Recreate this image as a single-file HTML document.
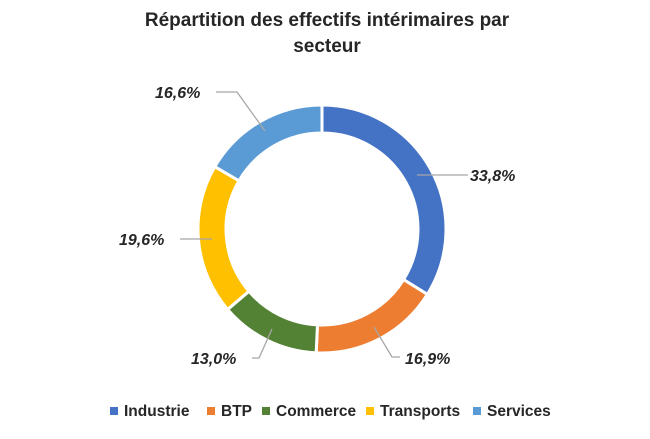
<!DOCTYPE html>
<html><head><meta charset="utf-8"><style>
body{margin:0;background:#fff;width:650px;height:434px;overflow:hidden;font-family:"Liberation Sans",sans-serif}
</style></head><body>
<svg id="s" width="650" height="434" viewBox="0 0 650 434">
<text x="327" y="26" text-anchor="middle" font-size="19" font-weight="bold" fill="#262626">Répartition des effectifs intérimaires par</text>
<text x="327" y="52" text-anchor="middle" font-size="19" font-weight="bold" fill="#262626">secteur</text>
<g id="ring"></g>
<g stroke="#a6a6a6" stroke-width="1.3" fill="none">
<polyline points="216,92 237,92 265,131"/>
<polyline points="417,175 468,175"/>
<polyline points="180,239 212,239"/>
<polyline points="252,358 259,358 272,329"/>
<polyline points="374,327 392,357 400,357"/>
</g>
<g font-size="16" font-weight="bold" font-style="italic" fill="#262626">
<text x="155" y="98">16,6%</text>
<text x="470" y="181">33,8%</text>
<text x="119" y="245">19,6%</text>
<text x="191" y="364">13,0%</text>
<text x="405" y="364">16,9%</text>
</g>
<g font-size="15.5" font-weight="bold" fill="#262626">
<rect x="110" y="407" width="8" height="8" fill="#4472c4"/><text x="124" y="416">Industrie</text>
<rect x="207" y="407" width="8" height="8" fill="#ed7d31"/><text x="221" y="416">BTP</text>
<rect x="262" y="407" width="8" height="8" fill="#548235"/><text x="276" y="416">Commerce</text>
<rect x="366" y="407" width="8" height="8" fill="#ffc000"/><text x="380" y="416">Transports</text>
<rect x="473" y="407" width="8" height="8" fill="#5b9bd5"/><text x="487" y="416">Services</text>
</g>
</svg>
<script>
var cx=322,cy=229,R=124,r=96;
var d=[[33.8,"#4472c4"],[16.9,"#ed7d31"],[13.0,"#548235"],[19.6,"#ffc000"],[16.6,"#5b9bd5"]];
var tot=0;d.forEach(function(x){tot+=x[0]});
var a=0,h="";
function p(rad,ang){return [cx+rad*Math.sin(ang),cy-rad*Math.cos(ang)];}
d.forEach(function(x){
var a0=a/tot*2*Math.PI;a+=x[0];var a1=a/tot*2*Math.PI;
var lg=(a1-a0)>Math.PI?1:0;
var o0=p(R,a0),o1=p(R,a1),i1=p(r,a1),i0=p(r,a0);
h+='<path d="M'+o0+' A'+R+','+R+' 0 '+lg+' 1 '+o1+' L'+i1+' A'+r+','+r+' 0 '+lg+' 0 '+i0+' Z" fill="'+x[1]+'" stroke="#fff" stroke-width="3"/>';
});
document.getElementById("ring").innerHTML=h;
</script>
</body></html>
